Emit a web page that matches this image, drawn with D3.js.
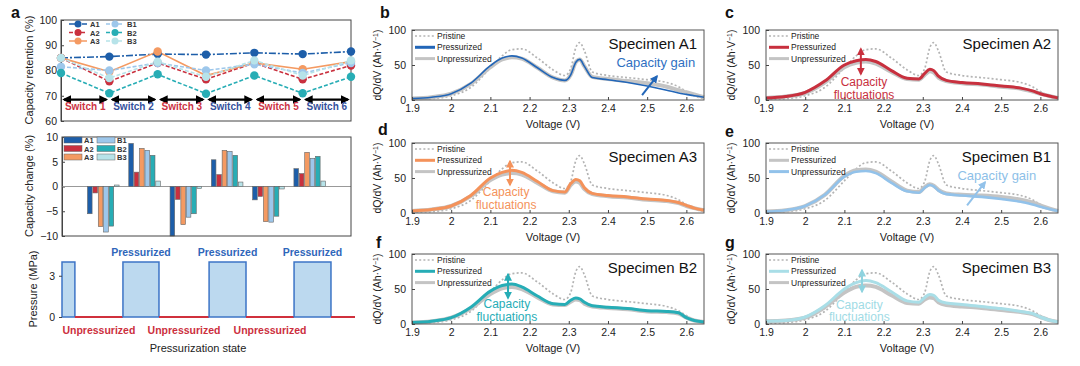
<!DOCTYPE html>
<html>
<head>
<meta charset="utf-8">
<script src="https://cdn.jsdelivr.net/npm/d3@7"></script>
<style>
  body { margin: 0; background: #fff; }
  svg { font-family: "Liberation Sans", Arial, sans-serif; }
</style>
</head>
<body>
<svg id="fig" width="1080" height="366"></svg>
<script>
// ---- panel a data ----
const specimens = ["A1", "A2", "A3", "B1", "B2", "B3"];
const specimenColors = ["#1d5ea9", "#c9303e", "#f49a62", "#9dc7eb", "#27adb5", "#b7e3e9"];
const retentionDashes = ["7,2,2,2", "4,2", null, "4,2", "4,2", "4,2"];

const switchSteps = [0, 1, 2, 3, 4, 5, 6];
const switchLabels = ["Switch 1", "Switch 2", "Switch 3", "Switch 4", "Switch 5", "Switch 6"];
const retA1 = [85, 85.5, 86.5, 86.3, 87, 86.5, 87.5];
const retA2 = [85, 75.7, 83, 76.5, 83, 76.5, 82];
const retA3 = [85, 79.5, 87.5, 78, 83, 80.5, 83.5];
const retB1 = [81.5, 80, 83, 80, 82.5, 79, 83];
const retB2 = [79, 71, 78.5, 70.8, 78, 71, 77.5];
const retB3 = [85, 77, 83.5, 77.5, 84, 78, 84];
const retention = [retA1, retA2, retA3, retB1, retB2, retB3];
const retentionTicks = [60, 70, 80, 90, 100];

const changeA1 = [-5.5, 8.7, -10, 5.4, -2.7, 3.6];
const changeA2 = [-1.3, 2.9, -2.6, 2.4, -2.0, 2.6];
const changeA3 = [-8.1, 7.7, -7.7, 7.3, -7.1, 6.9];
const changeB1 = [-9.2, 7.3, -6.2, 7.1, -7.2, 5.7];
const changeB2 = [-8.0, 6.3, -5.5, 6.3, -6.0, 6.1];
const changeB3 = [0.3, 1.1, -0.4, 0.9, -0.5, 1.1];
const change = [changeA1, changeA2, changeA3, changeB1, changeB2, changeB3];
const changeTicks = [-10, -5, 0, 5, 10];

const pressureEdges = [0, 4.4, 20.8, 33.1, 50.2, 62.8, 79.2, 91.8, 100];
const pressureLevels = [4, 0, 4, 0, 4, 0, 4, 0];
const pressureTicks = [0, 3];

// ---- dQ/dV data ----
const voltage = [1.9, 1.95, 2.0, 2.05, 2.1, 2.13, 2.155, 2.18, 2.22, 2.26, 2.29, 2.305, 2.318, 2.328, 2.34, 2.36, 2.4, 2.45, 2.5, 2.55, 2.58, 2.6, 2.62, 2.645];
const voltageTicks = [1.9, 2.0, 2.1, 2.2, 2.3, 2.4, 2.5, 2.6];
const dqdvTicks = [0, 50, 100];
const pristine  = [1, 2, 6, 18, 46, 63, 72, 73, 60, 43, 35, 45, 75, 82, 70, 40, 35, 32, 29, 25, 19, 12, 6, 2];
const pressA1   = [2, 4, 9, 24, 49, 60, 63, 60, 46, 32, 28, 36, 54, 58, 48, 32, 29, 25, 20, 14, 10, 8, 6, 4];
const unpressA1 = [2, 4, 9, 23, 47, 58, 61, 59, 46, 32, 28, 36, 54, 58, 48, 33, 30, 27, 24, 19, 14, 11, 8, 4];
const pressA2   = [3, 5, 11, 27, 50, 56, 58, 55, 42, 31, 30, 38, 44, 42, 34, 28, 25, 23, 20, 17, 13, 9, 6, 3];
const unpressA2 = [3, 5, 10, 25, 47, 53, 55, 52, 40, 30, 29, 36, 41, 39, 32, 27, 24, 22, 19, 16, 12, 9, 6, 3];
const pressA3   = [3, 5, 10, 25, 50, 58, 61, 58, 45, 32, 30, 42, 48, 46, 36, 28, 25, 23, 20, 18, 15, 11, 7, 4];
const unpressA3 = [3, 5, 10, 24, 47, 55, 57, 55, 43, 31, 29, 40, 45, 43, 34, 27, 24, 22, 19, 17, 14, 10, 7, 4];
const pressB1   = [2, 4, 10, 26, 53, 61, 62, 59, 45, 32, 30, 37, 41, 39, 33, 28, 26, 25, 23, 19, 15, 11, 7, 3];
const unpressB1 = [2, 4, 10, 26, 52, 59, 60, 57, 43, 31, 29, 36, 40, 38, 32, 27, 25, 23, 20, 16, 12, 9, 6, 3];
const pressB2   = [2, 4, 9, 24, 47, 55, 57, 53, 40, 29, 28, 34, 37, 36, 31, 26, 24, 22, 19, 18, 16, 9, 5, 3];
const unpressB2 = [2, 4, 9, 22, 43, 51, 53, 50, 38, 28, 27, 32, 35, 34, 29, 25, 23, 21, 18, 17, 15, 9, 5, 3];
const pressB3   = [4, 5, 10, 26, 50, 59, 62, 59, 46, 33, 31, 38, 42, 41, 34, 30, 28, 25, 22, 18, 15, 10, 6, 3];
const unpressB3 = [4, 5, 9, 24, 45, 53, 55, 53, 41, 30, 29, 35, 38, 37, 31, 27, 25, 23, 20, 17, 14, 10, 6, 3];

const grey = "#c4c4c4";
const svg = d3.select("#fig");
const defs = svg.append("defs");

function arrowMarker(id, color) {
  defs.append("marker")
    .attr("id", id)
    .attr("viewBox", "0 0 10 10")
    .attr("refX", 8).attr("refY", 5)
    .attr("markerWidth", 4).attr("markerHeight", 4)
    .attr("orient", "auto-start-reverse")
    .append("path")
    .attr("d", "M0,0 L10,5 L0,10 z")
    .attr("fill", color);
  return `url(#${id})`;
}

function letter(x, y, t) {
  svg.append("text").attr("x", x).attr("y", y).text(t)
    .attr("font-size", 16).attr("font-weight", "bold").attr("fill", "#111");
}

function yTitle(x, yMid, t, size) {
  return svg.append("text")
    .attr("transform", `translate(${x},${yMid}) rotate(-90)`)
    .attr("text-anchor", "middle")
    .attr("font-size", size).attr("fill", "#222")
    .text(t);
}

function styleAxis(g, size) {
  g.selectAll("path,line").attr("stroke", "#444");
  g.selectAll("text").attr("fill", "#222").attr("font-size", size || 10).attr("font-family", null);
}

// ---- a: retention ----
function draw_retention() {
  let x = d3.scaleLinear().domain([0, 6]).range([61, 351]);
  let y = d3.scaleLinear().domain([60, 100]).range([121, 20]);
  let g = svg.append("g");

  g.append("g").attr("transform", `translate(${x.range()[0]},0)`)
    .call(d3.axisLeft(y).tickValues(retentionTicks).tickSize(-3).tickPadding(4))
    .call(a => styleAxis(a, 10.5));
  g.append("rect").attr("x", 61).attr("y", 20).attr("width", 290).attr("height", 101)
    .attr("fill", "none").attr("stroke", "#444");

  let line = d3.line().x((d, i) => x(switchSteps[i])).y(d => y(d));
  retention.forEach((vals, k) => {
    g.append("path").attr("d", line(vals)).attr("fill", "none")
      .attr("stroke", specimenColors[k]).attr("stroke-width", 1.6)
      .attr("stroke-dasharray", retentionDashes[k]);
  });
  retention.forEach((vals, k) => {
    g.selectAll(null).data(vals).enter().append("circle")
      .attr("cx", (d, i) => x(switchSteps[i])).attr("cy", d => y(d))
      .attr("r", 4.2).attr("fill", specimenColors[k]);
  });

  // switch arrows
  let arr = arrowMarker("blackArrow", "#000");
  switchLabels.forEach((s, i) => {
    g.append("line")
      .attr("x1", x(i) + 3).attr("x2", x(i + 1) - 3)
      .attr("y1", y(68.5)).attr("y2", y(68.5))
      .attr("stroke", "#000").attr("stroke-width", 2.2)
      .attr("marker-start", arr).attr("marker-end", arr);
    g.append("text").attr("x", x(i + 0.5)).attr("y", y(64.2))
      .attr("text-anchor", "middle").attr("font-size", 10).attr("font-weight", "bold")
      .attr("fill", i % 2 === 0 ? "#cc3344" : "#34509c").text(s);
  });

  // legend
  specimens.forEach((s, k) => {
    let lx = k < 3 ? 69 : 106, ly = 24 + (k % 3) * 8.5;
    g.append("line").attr("x1", lx).attr("x2", lx + 18).attr("y1", ly).attr("y2", ly)
      .attr("stroke", specimenColors[k]).attr("stroke-width", 1.5)
      .attr("stroke-dasharray", retentionDashes[k]);
    g.append("circle").attr("cx", lx + 9).attr("cy", ly).attr("r", 3.5).attr("fill", specimenColors[k]);
    g.append("text").attr("x", lx + 21).attr("y", ly + 3).attr("font-size", 7.5)
      .attr("font-weight", "bold").attr("fill", "#333").text(s);
  });

  yTitle(33, 70, "Capacity retention (%)", 11);
}

// ---- a: capacity change ----
function draw_change() {
  let x = d3.scaleLinear().domain([0, 7]).range([62, 351]);
  let y = d3.scaleLinear().domain([-10, 10]).range([236, 137]);
  let g = svg.append("g");
  let step = 5.4, bw = 4.6;

  g.append("g").attr("transform", "translate(62,0)")
    .call(d3.axisLeft(y).tickValues(changeTicks).tickSize(-3).tickPadding(4))
    .call(a => styleAxis(a, 10.5));
  g.append("line").attr("x1", 62).attr("x2", 351).attr("y1", y(0)).attr("y2", y(0))
    .attr("stroke", "#999").attr("stroke-width", 1);

  change.forEach((vals, k) => {
    g.selectAll(null).data(vals).enter().append("rect")
      .attr("x", (d, i) => x(i + 1) + (k - 2.5) * step - bw / 2)
      .attr("y", d => y(Math.max(0, d)))
      .attr("width", bw)
      .attr("height", d => Math.abs(y(d) - y(0)))
      .attr("fill", specimenColors[k]).attr("stroke", "#666").attr("stroke-width", 0.6);
  });
  g.append("rect").attr("x", 62).attr("y", 137).attr("width", 289).attr("height", 99)
    .attr("fill", "none").attr("stroke", "#444");

  specimens.forEach((s, k) => {
    let lx = k < 3 ? 64 : 97, ly = 140 + (k % 3) * 8.5;
    g.append("rect").attr("x", lx).attr("y", ly - 3).attr("width", 18).attr("height", 6)
      .attr("fill", specimenColors[k]).attr("stroke", "#666").attr("stroke-width", 0.5);
    g.append("text").attr("x", lx + 20).attr("y", ly + 3).attr("font-size", 7.5)
      .attr("font-weight", "bold").attr("fill", "#333").text(s);
  });

  yTitle(33, 186, "Capacity change (%)", 11);
}

// ---- a: pressure ----
function draw_pressure() {
  let x = d3.scaleLinear().domain([0, 100]).range([62, 355]);
  let y = d3.scaleLinear().domain([0, 4]).range([317, 262]);
  let g = svg.append("g");

  pressureLevels.forEach((p, i) => {
    let x0 = x(pressureEdges[i]), x1 = x(pressureEdges[i + 1]);
    if (p > 0) {
      g.append("rect").attr("x", x0).attr("y", y(p)).attr("width", x1 - x0)
        .attr("height", y(0) - y(p))
        .attr("fill", "#bcd9ef").attr("stroke", "#3c74c6").attr("stroke-width", 1.5);
      if (i > 0) {
        g.append("text").attr("x", (x0 + x1) / 2).attr("y", y(p) - 6)
          .attr("text-anchor", "middle").attr("font-size", 10.5).attr("font-weight", "bold")
          .attr("fill", "#2f66ba").text("Pressurized");
      }
    } else {
      g.append("line").attr("x1", x0).attr("x2", x1).attr("y1", y(0)).attr("y2", y(0))
        .attr("stroke", "#d0303c").attr("stroke-width", 2);
      if (i < pressureLevels.length - 1) {
        g.append("text").attr("x", (x0 + x1) / 2).attr("y", y(0) + 17)
          .attr("text-anchor", "middle").attr("font-size", 10.5).attr("font-weight", "bold")
          .attr("fill", "#cc2f3e").text("Unpressurized");
      }
    }
  });

  g.append("g").attr("transform", "translate(62,0)")
    .call(d3.axisLeft(y).tickValues(pressureTicks).tickFormat(d3.format("~g")).tickSize(3).tickPadding(4))
    .call(a => styleAxis(a, 10.5))
    .call(a => a.select(".domain").remove());

  svg.append("text").attr("x", 198).attr("y", 352).attr("text-anchor", "middle")
    .attr("font-size", 11).attr("fill", "#222").text("Pressurization state");
  yTitle(37, 289, "Pressure (MPa)", 11);
}

// ---- b-g: dQ/dV ----
const dqdvPanels = [
  { letter: "b", name: "Specimen A1", color: "#2266b8", width: 1.6, col: 0, row: 0,
    press: pressA1, unpress: unpressA1, coloredIs: "press",
    note: ["Capacity gain"], noteAt: [2.522, 54], noteColor: "#2f70c2",
    arrow: [2.487, 7, 2.525, 34], double: false },
  { letter: "c", name: "Specimen A2", color: "#c8303e", width: 3, col: 1, row: 0,
    press: pressA2, unpress: unpressA2, coloredIs: "press",
    note: ["Capacity", "fluctuations"], noteAt: [2.15, 27], noteColor: "#c8303e",
    arrow: [2.142, 37, 2.142, 73], double: true },
  { letter: "d", name: "Specimen A3", color: "#f4925a", width: 3, col: 0, row: 1,
    press: pressA3, unpress: unpressA3, coloredIs: "press",
    note: ["Capacity", "fluctuations"], noteAt: [2.14, 31], noteColor: "#f4925a",
    arrow: [2.15, 40, 2.15, 74], double: true },
  { letter: "e", name: "Specimen B1", color: "#92c2ea", width: 2.6, col: 1, row: 1,
    press: pressB1, unpress: unpressB1, coloredIs: "unpress",
    note: ["Capacity gain"], noteAt: [2.489, 54], noteColor: "#8dbfe8",
    arrow: [2.413, 11, 2.459, 44], double: false },
  { letter: "f", name: "Specimen B2", color: "#26adb6", width: 3, col: 0, row: 2,
    press: pressB2, unpress: unpressB2, coloredIs: "press",
    note: ["Capacity", "fluctuations"], noteAt: [2.142, 30], noteColor: "#26adb6",
    arrow: [2.145, 37, 2.145, 71], double: true },
  { letter: "g", name: "Specimen B3", color: "#a9dee7", width: 3, col: 1, row: 2,
    press: pressB3, unpress: unpressB3, coloredIs: "press",
    note: ["Capacity", "fluctuations"], noteAt: [2.138, 29], noteColor: "#9fdbe5",
    arrow: [2.145, 46, 2.145, 77], double: true }
];
const colLeft = [412, 766];
const rowTop = [30, 143, 254];

function draw_dqdv(p) {
  let x0 = colLeft[p.col], y0 = rowTop[p.row], w = 292, h = 70;
  let x = d3.scaleLinear().domain([1.9, 2.645]).range([x0, x0 + w]);
  let y = d3.scaleLinear().domain([0, 100]).range([y0 + h, y0]);
  let g = svg.append("g");
  let line = d3.line().x((d, i) => x(voltage[i])).y(d => y(d)).curve(d3.curveMonotoneX);
  let accent = p.color === "#a9dee7" ? "#8fd3df" : p.color;

  g.append("path").attr("d", line(pristine)).attr("fill", "none")
    .attr("stroke", "#b4b4b4").attr("stroke-width", 1.7).attr("stroke-dasharray", "2,2.2");
  let colored = p.coloredIs === "press" ? p.press : p.unpress;
  let greyed = p.coloredIs === "press" ? p.unpress : p.press;
  g.append("path").attr("d", line(greyed)).attr("fill", "none")
    .attr("stroke", grey).attr("stroke-width", 4);
  g.append("path").attr("d", line(colored)).attr("fill", "none")
    .attr("stroke", p.color).attr("stroke-width", p.width);

  g.append("rect").attr("x", x0).attr("y", y0).attr("width", w).attr("height", h)
    .attr("fill", "none").attr("stroke", "#555");
  g.append("g").attr("transform", `translate(0,${y0 + h})`)
    .call(d3.axisBottom(x).tickValues(voltageTicks).tickFormat(d3.format("~g")).tickSize(-3).tickPadding(4.5))
    .call(a => styleAxis(a, 10.5)).call(a => a.select(".domain").remove());
  g.append("g").attr("transform", `translate(${x0},0)`)
    .call(d3.axisLeft(y).tickValues(dqdvTicks).tickSize(-3).tickPadding(6))
    .call(a => styleAxis(a, 10.5)).call(a => a.select(".domain").remove());

  // legend
  let items = [
    { t: "Pristine", c: "#b4b4b4", w: 1.7, dash: "2,2.2" },
    { t: "Pressurized", c: p.coloredIs === "press" ? p.color : grey, w: 3, dash: null },
    { t: "Unpressurized", c: p.coloredIs === "press" ? grey : p.color, w: 3, dash: null }
  ];
  items.forEach((it, i) => {
    let ly = y0 + 6 + i * 11.3;
    g.append("line").attr("x1", x0 + 3).attr("x2", x0 + 23).attr("y1", ly).attr("y2", ly)
      .attr("stroke", it.c).attr("stroke-width", it.w).attr("stroke-dasharray", it.dash);
    g.append("text").attr("x", x0 + 25).attr("y", ly + 3).attr("font-size", 8.5)
      .attr("fill", "#222").text(it.t);
  });

  g.append("text").attr("x", x0 + w - 7).attr("y", y0 + 19).attr("text-anchor", "end")
    .attr("font-size", 15).attr("fill", "#111").text(p.name);

  // annotation
  let mk = arrowMarker("arr" + p.letter, accent);
  let a = g.append("line")
    .attr("x1", x(p.arrow[0])).attr("y1", y(p.arrow[1]))
    .attr("x2", x(p.arrow[2])).attr("y2", y(p.arrow[3]))
    .attr("stroke", accent).attr("stroke-width", 2)
    .attr("marker-end", mk);
  if (p.double) a.attr("marker-start", mk);

  p.note.forEach((t, i) => {
    g.append("text").attr("x", x(p.noteAt[0])).attr("y", y(p.noteAt[1]) + i * 12.5 + 5)
      .attr("text-anchor", "middle").attr("font-size", p.note.length > 1 ? 12 : 13)
      .attr("fill", p.noteColor).text(t);
  });

  let lab = svg.append("text")
    .attr("transform", `translate(${x0 - 31},${y0 + h / 2}) rotate(-90)`)
    .attr("text-anchor", "middle").attr("font-size", 10.5).attr("fill", "#222");
  lab.append("tspan").text("dQ/dV (Ah·V");
  lab.append("tspan").attr("baseline-shift", "super").attr("font-size", 7).text("−1");
  lab.append("tspan").text(")");

  svg.append("text").attr("x", x0 + w / 2 - 5).attr("y", y0 + h + 28).attr("text-anchor", "middle")
    .attr("font-size", 11).attr("fill", "#222").text("Voltage (V)");
}

draw_retention();
draw_change();
draw_pressure();
dqdvPanels.forEach(draw_dqdv);

letter(11, 18, "a");
letter(380, 18, "b");
letter(725, 18, "c");
letter(378, 135, "d");
letter(725, 137, "e");
letter(376, 248, "f");
letter(725, 248, "g");
</script>
</body>
</html>
